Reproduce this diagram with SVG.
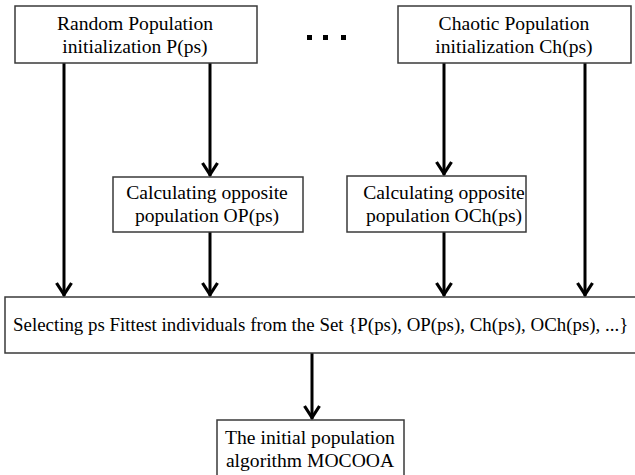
<svg xmlns="http://www.w3.org/2000/svg" width="635" height="475" viewBox="0 0 635 475">
<style>
.box{fill:#fff;stroke:#3a3a3a;stroke-width:1.5}
.t{font-family:"Liberation Serif","Times New Roman",serif;font-size:19.6px;fill:#000;text-anchor:middle}
.c{stroke:#000;stroke-width:3;fill:none}
</style>
<defs>
<marker id="ah" markerUnits="userSpaceOnUse" viewBox="-16 -10 18 20" refX="0" refY="0" markerWidth="18" markerHeight="20" orient="auto">
<path d="M -13 -7.5 L -1.5 0 L -13 7.5" fill="none" stroke="#000" stroke-width="3.2" stroke-linejoin="miter"/>
</marker>
</defs>
<rect width="635" height="475" fill="#fff"/>
<g id="connectors">
<line class="c" x1="64" y1="63" x2="64" y2="296" marker-end="url(#ah)"/>
<line class="c" x1="210" y1="63" x2="210" y2="176" marker-end="url(#ah)"/>
<line class="c" x1="444" y1="63" x2="444" y2="175" marker-end="url(#ah)"/>
<line class="c" x1="585" y1="63" x2="585" y2="296" marker-end="url(#ah)"/>
<line class="c" x1="210" y1="232" x2="210" y2="296" marker-end="url(#ah)"/>
<line class="c" x1="444" y1="232" x2="444" y2="296" marker-end="url(#ah)"/>
<line class="c" x1="312" y1="353" x2="312" y2="419" marker-end="url(#ah)"/>
</g>
<g id="dots" fill="#000">
<rect x="307" y="35" width="5" height="5"/>
<rect x="323" y="35" width="5" height="5"/>
<rect x="341" y="35" width="5" height="5"/>
</g>
<g id="random">
<rect class="box" x="15" y="6" width="242" height="57"/>
<text class="t" x="135" y="30">Random Population</text>
<text class="t" x="135" y="53">initialization P(ps)</text>
</g>
<g id="chaotic">
<rect class="box" x="398" y="6" width="233" height="57"/>
<text class="t" x="514" y="30">Chaotic Population</text>
<text class="t" x="514" y="53">initialization Ch(ps)</text>
</g>
<g id="opp1">
<rect class="box" x="113" y="177" width="190" height="55"/>
<text class="t" x="207" y="199">Calculating opposite</text>
<text class="t" x="207" y="222">population OP(ps)</text>
</g>
<g id="opp2">
<rect class="box" x="347" y="176" width="179" height="56"/>
<text class="t" x="444" y="199">Calculating opposite</text>
<text class="t" x="444" y="222">population OCh(ps)</text>
</g>
<g id="select">
<rect class="box" x="5" y="297" width="640" height="56"/>
<text class="t" x="13" y="331" style="text-anchor:start;font-size:18.9px">Selecting ps Fittest individuals from the Set {P(ps), OP(ps), Ch(ps), OCh(ps), ...}</text>
</g>
<g id="initial">
<rect class="box" x="217" y="420" width="187" height="70"/>
<text class="t" x="310" y="444">The initial population</text>
<text class="t" x="310" y="467">algorithm MOCOOA</text>
</g>
</svg>
